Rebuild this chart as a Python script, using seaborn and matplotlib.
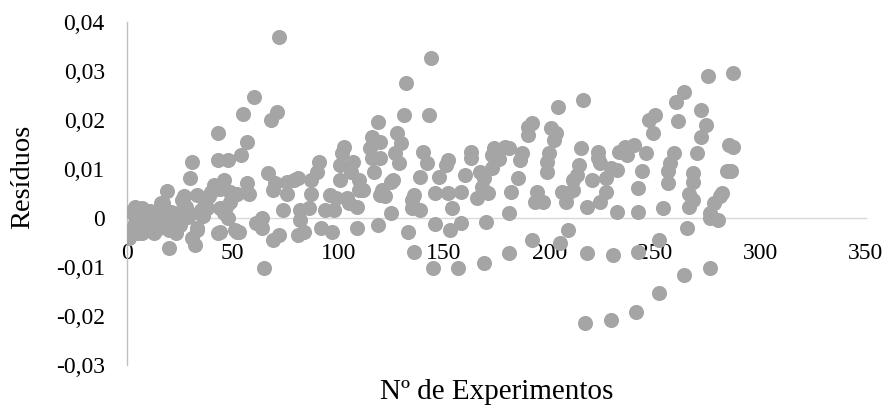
import matplotlib
matplotlib.use("Agg")
import matplotlib.pyplot as plt
import seaborn as sns
import pandas as pd
from matplotlib.ticker import FuncFormatter, MultipleLocator

# Experiment number and residual of each run
experimentos = [
    1, 2, 2, 3, 4, 4, 5, 5, 6, 7, 7, 8, 9, 9, 10, 11, 12, 13, 14, 15, 15, 16, 16,
    17, 18, 19, 20, 20, 21, 22, 23, 24, 25, 26, 27, 28, 29, 30, 31, 31, 32, 33, 33,
    33, 34, 35, 36, 37, 38, 38, 39, 40, 41, 43, 43, 43, 44, 44, 44, 46, 46, 47, 48,
    48, 49, 49, 50, 51, 52, 52, 53, 54, 55, 57, 57, 58, 61, 60,
    64, 64, 65, 67, 68, 69, 69, 70, 71, 72, 72, 74, 76, 76, 79, 81, 81, 82, 82, 84,
    86, 87, 87, 90, 91, 92, 94, 96, 97, 98, 99, 101, 101, 102, 103, 104, 105, 106,
    107, 109, 109, 110, 110, 112, 115, 116, 116, 117, 119, 119,
    120, 120, 120, 121, 122, 125, 125, 126, 127, 128, 129, 130, 131, 132, 133, 135,
    135, 136, 136, 139, 139, 140, 142, 143, 144, 145, 146, 146, 148, 151, 152, 152,
    153, 154, 157, 158, 158, 160, 163, 163, 166, 167, 168, 169, 169, 170, 171, 173,
    173, 174, 176, 179, 181, 181, 181, 182,
    185, 186, 187, 190, 190, 192, 192, 193, 194, 197, 199, 199, 200, 201, 202, 203,
    204, 205, 206, 208, 209, 209, 211, 211, 213, 214, 215, 216, 217, 218, 218, 220,
    223, 223, 224, 224, 227, 227, 229, 229, 230, 232, 232, 233, 236, 237, 240, 241,
    242, 242, 242,
    244, 246, 247, 249, 250, 252, 252, 254, 256, 256, 257, 259, 260, 261, 264, 264,
    265, 266, 266, 268, 268, 268, 270, 272, 272, 274, 275, 276, 276, 276, 278, 280,
    281, 282, 284, 286, 285, 287, 287,
]
residuos = [
    -0.0041, -0.0024, 0.0012, 0.0010, 0.0023, -0.0010, -0.0031, 0.0002, -0.0012,
    0.0020, -0.0030, -0.0002, 0.0006, -0.0015, -0.0024, 0.0015, -0.0007, -0.0031,
    0.0004, 0.0010, -0.0020, -0.0018, 0.0030, 0.0030, -0.0010, 0.0056, -0.0062,
    -0.0024, 0.0012, -0.0004, -0.0031, 0.0010, -0.0015, 0.0037, 0.0044, 0.0023,
    0.0003, 0.0081, 0.0114, -0.0040, -0.0055, -0.0024, 0.0047, -0.0020, 0.0010,
    0.0016, 0.0005, 0.0030, 0.0020, 0.0040, 0.0044, 0.0054, 0.0067, 0.0118, 0.0174,
    -0.0031, 0.0020, 0.0060, -0.0029, 0.0078, 0.0010, 0.0023, 0.0118, 0.0000,
    0.0033, 0.0053, 0.0044, -0.0025, 0.0050, -0.0029, -0.0028, 0.0129, 0.0212,
    0.0071, 0.0155, 0.0050, -0.0010, 0.0247,
    0.0000, -0.0020, -0.0102, 0.0092, 0.0200, -0.0045, 0.0057, 0.0071, 0.0216,
    0.0369, -0.0035, 0.0016, 0.0050, 0.0073, 0.0078, 0.0082, -0.0035, 0.0016,
    -0.0004, -0.0029, 0.0020, 0.0050, 0.0078, 0.0094, 0.0114, -0.0020, 0.0016,
    0.0047, -0.0029, 0.0016, 0.0040, 0.0078, 0.0108, 0.0133, 0.0145, 0.0040,
    0.0030, 0.0094, 0.0114, -0.0020, 0.0022, 0.0057, 0.0078, 0.0057, 0.0143,
    0.0165, 0.0122, 0.0094, 0.0196, -0.0015,
    0.0155, 0.0122, 0.0047, 0.0057, 0.0044, 0.0010, 0.0074, 0.0078, 0.0133, 0.0174,
    0.0112, 0.0153, 0.0210, 0.0276, -0.0029, 0.0037, 0.0020, 0.0047, -0.0069,
    0.0016, 0.0084, 0.0135, 0.0112, 0.0210, 0.0326, -0.0102, -0.0012, 0.0051,
    0.0084, 0.0108, 0.0051, 0.0118, -0.0024, 0.0020, -0.0102, -0.0010, 0.0053,
    0.0088, 0.0135, 0.0122, 0.0040, 0.0094, 0.0064, 0.0082, -0.0092, -0.0008,
    0.0051, 0.0102, 0.0129, 0.0143, 0.0120, 0.0145, -0.0071, 0.0010, 0.0143, 0.0053,
    0.0082, 0.0118, 0.0133, 0.0169, 0.0186, 0.0194, -0.0045, 0.0033, 0.0053, 0.0033,
    0.0094, 0.0114, 0.0133, 0.0184, 0.0160, 0.0174, 0.0227, -0.0051, 0.0053,
    0.0033, 0.0051, -0.0024, 0.0057, 0.0078, 0.0088, 0.0108, 0.0143, 0.0241,
    -0.0214, 0.0022, -0.0071, 0.0078, 0.0135, 0.0122, 0.0033, 0.0112, 0.0053,
    0.0082, 0.0102, -0.0208, -0.0076, 0.0012, 0.0098, 0.0135, 0.0145, 0.0129,
    0.0149, -0.0192, 0.0012, -0.0069, 0.0061,
    0.0095, 0.0132, 0.0199, 0.0173, 0.0210, -0.0044, -0.0154, 0.0020, 0.0071,
    0.0095, 0.0112, 0.0133, 0.0237, 0.0197, 0.0258, -0.0116, -0.0021, 0.0023,
    0.0050, 0.0037, 0.0074, 0.0091, 0.0132, 0.0166, 0.0220, 0.0190, 0.0290,
    0.0010, 0.0000, -0.0103, 0.0030, -0.0004, 0.0044, 0.0052, 0.0095, 0.0095,
    0.0148, 0.0145, 0.0295,
]

x_ticks = [0, 50, 100, 150, 200, 250, 300, 350]
y_ticks = [-0.03, -0.02, -0.01, 0.0, 0.01, 0.02, 0.03, 0.04]

df = pd.DataFrame({"Nº de Experimentos": experimentos, "Resíduos": residuos})

sns.set_theme(style="white")
plt.rcParams["font.family"] = ["Liberation Serif", "DejaVu Serif"]
plt.rcParams["axes.unicode_minus"] = False

fig = plt.figure(figsize=(8.89, 4.07), dpi=100)
ax = fig.add_axes([127 / 889, 1 - 365 / 407, 739 / 889, 343 / 407])

sns.scatterplot(data=df, x="Nº de Experimentos", y="Resíduos", ax=ax,
                color="#A5A5A5", s=118, linewidth=0, alpha=1.0,
                legend=False, zorder=3)

ax.set_xlim(x_ticks[0], x_ticks[-1])
ax.set_ylim(y_ticks[0], y_ticks[-1])
ax.set_xticks(x_ticks)
ax.set_yticks(y_ticks)


def virgula(v, _pos):
    if abs(v) < 1e-12:
        return "0"
    return f"{v:.2f}".replace(".", ",")


ax.yaxis.set_major_formatter(FuncFormatter(virgula))
ax.xaxis.set_major_formatter(FuncFormatter(lambda v, _p: f"{v:.0f}"))

# horizontal axis sits on the zero line, labels hang below it
ax.spines["bottom"].set_position(("data", 0))
ax.spines["bottom"].set_color("#D9D9D9")
ax.spines["bottom"].set_linewidth(1.0)
ax.spines["left"].set_color("#BFBFBF")
ax.spines["left"].set_linewidth(1.0)
ax.spines["top"].set_visible(False)
ax.spines["right"].set_visible(False)
for sp in ax.spines.values():
    sp.set_zorder(1)

ax.tick_params(axis="x", length=0, labelsize=17, pad=18, colors="black")
ax.tick_params(axis="y", length=0, labelsize=17, pad=16, colors="black")
ax.set_xlabel("")
ax.set_ylabel("")
ax.grid(False)

fig.text(23 / 889, 1 - 177 / 407, "Resíduos", rotation=90,
         ha="center", va="center", fontsize=20.5, color="black")
fig.text(497 / 889, 1 - 392 / 407, "Nº de Experimentos",
         ha="center", va="center", fontsize=21, color="black")

fig.savefig("out.png", dpi=100, facecolor="white")
